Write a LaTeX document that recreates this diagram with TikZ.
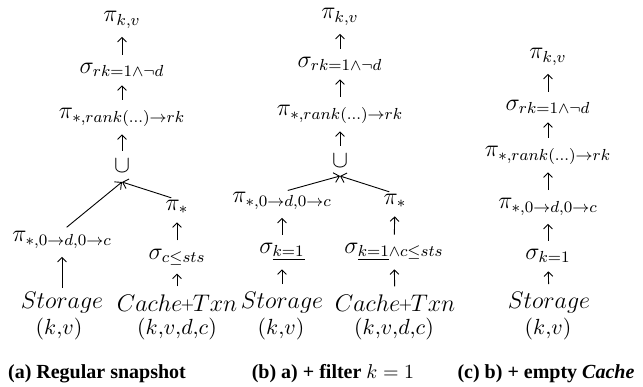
\documentclass[tikz,border=0pt]{standalone}
\usepackage[no-math]{fontspec}
\setmainfont{Liberation Serif}
\usetikzlibrary{arrows.meta}
\newcommand{\cachetxn}{Cache\mkern-1mu\mathord{\vcenter{\hbox{$\scriptstyle+$}}}\mkern-1mu Txn}
\tikzset{
  op/.style={inner sep=0pt, font=\fontsize{11.5}{13}\selectfont},
  tup/.style={inner sep=0pt, font=\fontsize{10.5}{12}\selectfont},
  captxt/.style={inner sep=0pt, font=\fontsize{10}{12}\selectfont\bfseries},
  up/.style={-{Straight Barb[length=2.2pt,width=4.4pt]}, line width=0.45pt, shorten <=4pt, shorten >=4pt},
  joinarr/.style={-{Straight Barb[length=2.6pt,width=5pt]}, line width=0.45pt, shorten <=3pt},
}
\begin{document}
\begin{tikzpicture}[x=0.5pt,y=-0.5pt]
\useasboundingbox (0,0) rectangle (643,386);
% ---------- (a)
\node[op] (a1) at (122,20) {$\pi_{k,v}$};
\node[op] (a2) at (122,70) {$\sigma_{rk=1\land\neg d}$};
\node[op] (a3) at (122,117) {$\pi_{*,rank(\ldots)\to rk}$};
\node[op] (au) at (122,166) {$\cup$};
\coordinate (aj) at (122,182);
\node[op] (al1) at (62,240) {$\pi_{*,0\to d,0\to c}$};
\node[op] (ar1) at (177,207) {$\pi_{*}$};
\node[op] (ar2) at (177,257) {$\sigma_{c\le sts}$};
\node[op] (as) at (62,303) {$Storage$};
\node[op] (ac) at (177,303) {$\cachetxn$};
\node[tup] (ast) at (59,329) {$(k{,}v)$};
\node[tup] (act) at (177,329) {$(k{,}v{,}d{,}c)$};
\draw[up] (a2) -- (a1);
\draw[up] (a3) -- (a2);
\draw[up] (au) -- (a3);
\draw[joinarr] (al1.north) -- (aj);
\draw[joinarr] (ar1.north) -- (aj);
\draw[up, shorten <=2pt] (as) -- (al1);
\draw[up] (ar2) -- (ar1);
\draw[up] (ac) -- (ar2);
\node[captxt] (acap) at (97,374) {(a) Regular snapshot};
% ---------- (b)
\node[op] (b1) at (340,17) {$\pi_{k,v}$};
\node[op] (b2) at (340,64) {$\sigma_{rk=1\land\neg d}$};
\node[op] (b3) at (340,114) {$\pi_{*,rank(\ldots)\to rk}$};
\node[op] (bu) at (340,161) {$\cup$};
\coordinate (bj) at (340,176);
\node[op] (bl1) at (282,201) {$\pi_{*,0\to d,0\to c}$};
\node[op] (br1) at (395,201) {$\pi_{*}$};
\node[op] (bl2) at (282,252) {$\sigma_{\underline{k=1}}$};
\node[op] (br2) at (394,252) {$\sigma_{\underline{k=1}\land c\le sts}$};
\node[op] (bs) at (282,303) {$Storage$};
\node[op] (bc) at (395,303) {$\cachetxn$};
\node[tup] (bst) at (281,329) {$(k{,}v)$};
\node[tup] (bct) at (394,329) {$(k{,}v{,}d{,}c)$};
\draw[up] (b2) -- (b1);
\draw[up] (b3) -- (b2);
\draw[up] (bu) -- (b3);
\draw[joinarr] (bl1.north) -- (bj);
\draw[joinarr] (br1.north) -- (bj);
\draw[up] (bl2) -- (bl1);
\draw[up] (br2) -- (br1);
\draw[up] (bs) -- (bl2);
\draw[up] (bc) -- (br2);
\node[captxt] (bcap) at (333,374) {(b) a) + filter \mdseries$k=1$};
% ---------- (c)
\node[op] (c1) at (548,57) {$\pi_{k,v}$};
\node[op] (c2) at (548,107) {$\sigma_{rk=1\land\neg d}$};
\node[op] (c3) at (548,155) {$\pi_{*,rank(\ldots)\to rk}$};
\node[op] (c4) at (548,207) {$\pi_{*,0\to d,0\to c}$};
\node[op] (c5) at (548,256) {$\sigma_{k=1}$};
\node[op] (cs) at (549,303) {$Storage$};
\node[tup] (cst) at (548,329) {$(k{,}v)$};
\draw[up] (c2) -- (c1);
\draw[up] (c3) -- (c2);
\draw[up] (c4) -- (c3);
\draw[up] (c5) -- (c4);
\draw[up] (cs) -- (c5);
\node[captxt] (ccap) at (546,374) {(c) b) + empty \textit{Cache}};
\end{tikzpicture}
\end{document}
